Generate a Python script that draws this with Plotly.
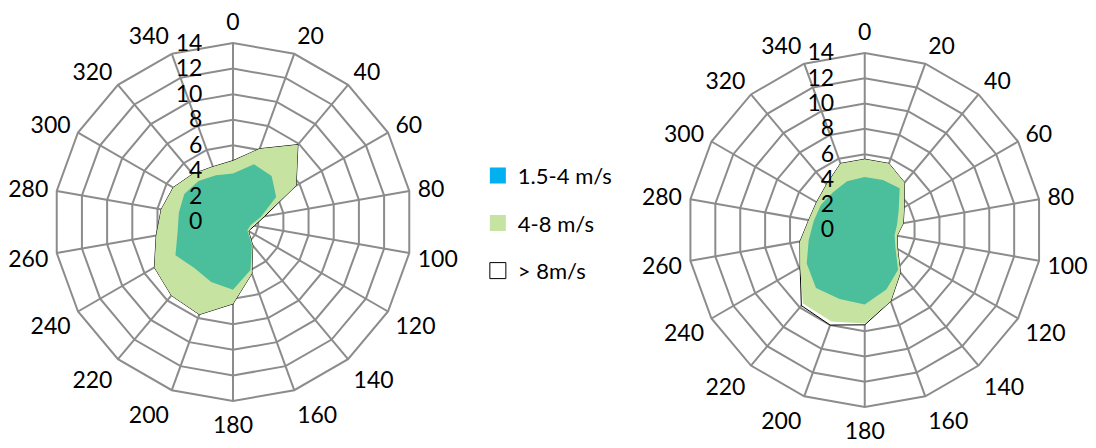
import plotly.graph_objects as go

directions = [0, 20, 40, 60, 80, 100, 120, 140, 160, 180, 200, 220, 240, 260, 280, 300, 320, 340]
dir_labels = [str(d) for d in directions]
radial_ticks = [0, 2, 4, 6, 8, 10, 12, 14]
series_names = ["1.5-4 m/s", "4-8 m/s", "> 8m/s"]

# left rose
left_low = [3.8, 4.8, 4.7, 3.9, 2.2, 1.4, 1.3, 2.3, 4.0, 5.3, 5.0, 4.7, 5.2, 4.4, 4.3, 4.4, 4.2, 3.9]
left_mid = [4.8, 6.1, 7.9, 5.7, 2.4, 1.6, 1.4, 2.4, 4.3, 6.4, 7.7, 7.5, 7.1, 6.1, 5.7, 5.4, 4.9, 4.6]
left_high = [4.8, 6.1, 7.9, 5.7, 2.5, 1.7, 1.4, 2.4, 4.3, 6.4, 7.7, 7.5, 7.1, 6.1, 5.7, 5.4, 4.9, 4.6]

# right rose
right_low = [4.2, 4.2, 4.3, 3.1, 2.6, 2.4, 2.8, 4.1, 5.0, 5.9, 5.8, 6.0, 5.3, 4.5, 4.1, 4.0, 3.9, 4.1]
right_mid = [5.6, 5.6, 4.9, 3.6, 3.1, 2.6, 3.0, 4.4, 6.0, 7.4, 7.7, 7.6, 5.9, 5.2, 4.5, 4.4, 4.7, 5.6]
right_high = [5.6, 5.6, 4.9, 3.6, 3.1, 2.6, 3.0, 4.4, 6.0, 7.5, 8.0, 7.8, 5.9, 5.2, 4.5, 4.4, 4.7, 5.6]

TEAL = "#4BBF9C"
LGREEN = "#C6E3A1"
BLUE = "#00B0F0"
GRID = "#8C8C8C"
FONT = "Lato, Open Sans, sans-serif"
FS = 23


def closed(v):
    return list(v) + [v[0]]


th = closed(dir_labels)
fig = go.Figure()

for sub, (low, mid, high) in (("polar", (left_low, left_mid, left_high)),
                              ("polar2", (right_low, right_mid, right_high))):
    fig.add_trace(go.Scatterpolar(r=closed(high), theta=th, mode="lines", fill="toself",
                                  fillcolor="white", line=dict(color="black", width=1),
                                  showlegend=False, subplot=sub, hoverinfo="skip"))
    fig.add_trace(go.Scatterpolar(r=closed(mid), theta=th, mode="lines", fill="toself",
                                  fillcolor=LGREEN, line=dict(width=0, color=LGREEN),
                                  showlegend=False, subplot=sub, hoverinfo="skip"))
    fig.add_trace(go.Scatterpolar(r=closed(low), theta=th, mode="lines", fill="toself",
                                  fillcolor=TEAL, line=dict(width=0, color=TEAL),
                                  showlegend=False, subplot=sub, hoverinfo="skip"))

legend_styles = [
    dict(color=BLUE, line=dict(color=BLUE, width=0)),
    dict(color=LGREEN, line=dict(color=LGREEN, width=0)),
    dict(color="white", line=dict(color="black", width=1)),
]
for i, (name, mk) in enumerate(zip(series_names, legend_styles)):
    fig.add_trace(go.Scatterpolar(r=[None], theta=[None], mode="markers", name=name,
                                  marker=dict(symbol="square", size=16, **mk),
                                  legendgroup=f"g{i}", subplot="polar"))

polar_common = dict(
    gridshape="linear",
    bgcolor="white",
    angularaxis=dict(type="category", categoryorder="array", categoryarray=dir_labels,
                     rotation=90, direction="clockwise", showgrid=True,
                     gridcolor=GRID, gridwidth=2, showline=True, linecolor=GRID,
                     linewidth=2, ticks="outside", ticklen=3, tickcolor="rgba(0,0,0,0)",
                     tickfont=dict(size=FS, color="black", family=FONT),
                     layer="above traces"),
    radialaxis=dict(range=[0, 14], tickmode="array", tickvals=radial_ticks,
                    ticktext=[str(t) for t in radial_ticks], showgrid=True,
                    gridcolor=GRID, gridwidth=2, showline=False, angle=90,
                    side="counterclockwise", ticks="outside", ticklen=22,
                    tickcolor="rgba(0,0,0,0)", tickangle=90,
                    tickfont=dict(size=FS, color="black", family=FONT),
                    layer="above traces"),
)

fig.update_layout(
    width=1096, height=448,
    margin=dict(l=0, r=0, t=0, b=0),
    paper_bgcolor="white", plot_bgcolor="white",
    polar=dict(domain=dict(x=[0.0493, 0.3759], y=[0.1049, 0.904]), **polar_common),
    polar2=dict(domain=dict(x=[0.6275, 0.9505], y=[0.0915, 0.8817]), **polar_common),
    showlegend=True,
    legend=dict(x=0.436, y=0.502, xanchor="left", yanchor="middle",
                font=dict(size=22, color="black", family=FONT),
                tracegroupgap=16, bgcolor="rgba(0,0,0,0)", itemwidth=30),
)

fig.write_html("out.html", config={"displayModeBar": False},
               post_script="document.body.style.margin='0';")
